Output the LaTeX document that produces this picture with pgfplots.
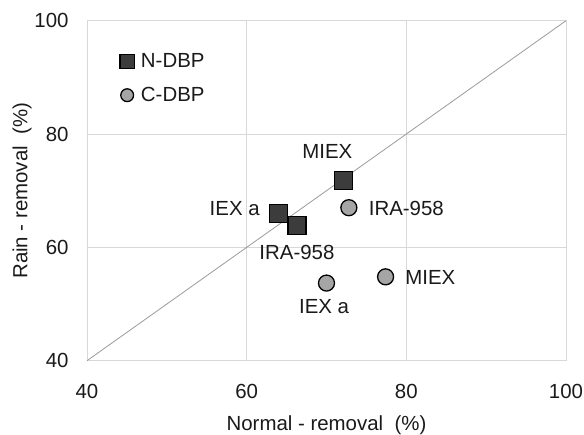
\documentclass[border=0pt]{standalone}
\usepackage{fontspec}
\setmainfont{Liberation Sans}
\usepackage{pgfplots}
\pgfplotsset{compat=1.18}
\definecolor{sqfill}{HTML}{3C3C3C}
\definecolor{cifill}{HTML}{A5A5A5}
\definecolor{gridc}{HTML}{D8D8D8}
\definecolor{diag}{HTML}{9A9A9A}
\definecolor{txt}{HTML}{1A1A1A}
\begin{document}
\begin{tikzpicture}
\useasboundingbox (-87bp,-74bp) rectangle (497bp,360.7bp);
\begin{axis}[
  scale only axis,
  width=479bp, height=340bp,
  xmin=40, xmax=100, ymin=40, ymax=100,
  xtick={40,60,80,100}, ytick={40,60,80,100},
  major tick length=0pt,
  grid=major,
  grid style={gridc, line width=0.9pt},
  axis line style={gridc, line width=0.9pt},
  /pgf/number format/assume math mode=true,
  font=\fontsize{20.5}{24}\selectfont,
  every tick label/.append style={txt},
  xticklabel style={yshift=-20bp},
  yticklabel style={xshift=-15bp},
  xlabel={Normal - removal\ \ (\%)},
  ylabel={Rain - removal\ \ (\%)},
  xlabel style={txt, yshift=-10bp},
  ylabel style={txt, yshift=-4bp},
  legend style={draw=none, fill=none, at={(0.062,0.915)}, anchor=north west,
    font=\fontsize{20.5}{24}\selectfont, text=txt, row sep=14bp,
    /tikz/every even column/.append style={column sep=0pt}},
  legend cell align=left,
  legend image code/.code={\draw[#1, every mark/.append style={scale=0.8}] plot coordinates {(0.25cm,0cm)}; \path (0cm,0cm) (0.66cm,0cm);},
]
\addplot[diag, line width=0.8pt, forget plot] coordinates {(40,40) (100,100)};
\addplot[only marks, mark=square*, mark size=9bp,
  mark options={fill=sqfill, draw=black, line width=1.3pt}]
  coordinates {(72.1,71.8) (64.0,66.0) (66.3,63.9)};
\addlegendentry{N-DBP}
\addplot[only marks, mark=*, mark size=8bp,
  mark options={fill=cifill, draw=black, line width=1.3pt}]
  coordinates {(72.8,67.0) (77.4,54.8) (70.0,53.7)};
\addlegendentry{C-DBP}
\node[txt] at (axis cs:70.1,77.0) {MIEX};
\node[txt] at (axis cs:58.5,66.9) {IEX a};
\node[txt] at (axis cs:66.3,59.1) {IRA-958};
\node[txt] at (axis cs:80.0,66.9) {IRA-958};
\node[txt] at (axis cs:83.0,54.7) {MIEX};
\node[txt] at (axis cs:69.7,49.6) {IEX a};
\end{axis}
\end{tikzpicture}
\end{document}
